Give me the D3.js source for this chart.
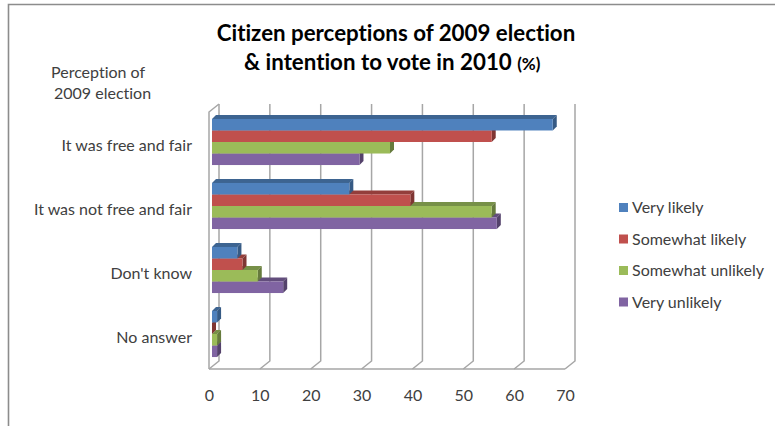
<!DOCTYPE html>
<html>
<head>
<meta charset="utf-8">
<script src="https://cdnjs.cloudflare.com/ajax/libs/d3/7.8.5/d3.min.js"></script>
<style>
  html, body { margin: 0; padding: 0; background: #fff; overflow: hidden; }
  text { font-family: Lato, "Noto Sans", sans-serif; font-variant-ligatures: none; }
</style>
</head>
<body>
<div id="chart"></div>
<script>
const categories = ["It was free and fair", "It was not free and fair", "Don't know", "No answer"];
const seriesNames = ["Very likely", "Somewhat likely", "Somewhat unlikely", "Very unlikely"];
const veryLikely = [67, 27, 5, 1];
const somewhatLikely = [55, 39, 6, 0];
const somewhatUnlikely = [35, 55, 9, 1];
const veryUnlikely = [29, 56, 14, 1];
const xTicks = [0, 10, 20, 30, 40, 50, 60, 70];

const seriesValues = [veryLikely, somewhatLikely, somewhatUnlikely, veryUnlikely];
const fills = ["#4f81bd", "#c0504d", "#9bbb59", "#8064a2"];
const tops = ["#3d6491", "#943e3b", "#779048", "#624d7c"];
const sides = ["#365a84", "#7f3533", "#667b3d", "#54426b"];

const w = 775;
const h = 426;
const wallX = 10;
const wallY = 8;
const barDepth = 4;
const barInset = 3;
const floorY = 369;
const wallTop = 112;

const x = d3.scaleLinear().domain([0, 70]).range([209, 565]);
const y = d3.scaleBand().domain(categories).range([110, 366]).paddingInner(0.28).paddingOuter(0.14);
const ySeries = d3.scaleBand().domain(seriesNames).range([0, y.bandwidth()]);

const svg = d3.select("#chart").append("svg").attr("width", w).attr("height", h);

svg.append("rect").attr("width", w).attr("height", h).attr("fill", "#fff");

// outer frame, only top and left show in the crop
svg.append("path")
  .attr("d", `M8.5,${h}V4.5H${w}`)
  .attr("fill", "none")
  .attr("stroke", "#8c8c8c")
  .attr("stroke-width", 1.6);

// 3d walls and gridlines
const grid = svg.append("g").attr("fill", "none").attr("stroke", "#a6a6a6").attr("stroke-width", 1.5);

grid.selectAll("path.tick3d")
  .data(xTicks)
  .enter()
  .append("path")
  .attr("class", "tick3d")
  .attr("d", function (d) {
    return `M${x(d)},${floorY}L${x(d) + wallX},${floorY - wallY}V${wallTop - wallY}`;
  });

grid.append("path").attr("d", `M${x(0)},${floorY}V${wallTop}L${x(0) + wallX},${wallTop - wallY}`);
grid.append("path").attr("d", `M${x(0)},${floorY}H${x(70)}`);

// bars, bottom series first so the upper faces hide the caps below
const bars = svg.append("g");

d3.range(seriesNames.length).reverse().forEach(function (s) {
  categories.forEach(function (cat, i) {
    const x0 = x(0) + barInset;
    const x1 = x(seriesValues[s][i]) + barInset;
    const y0 = y(cat) + ySeries(seriesNames[s]);
    const bh = ySeries.bandwidth();

    bars.append("path")
      .attr("fill", tops[s])
      .attr("d", `M${x0},${y0}L${x0 + barDepth},${y0 - barDepth}H${x1 + barDepth}L${x1},${y0}Z`);

    bars.append("path")
      .attr("fill", sides[s])
      .attr("d", `M${x1},${y0}L${x1 + barDepth},${y0 - barDepth}V${y0 + bh - barDepth}L${x1},${y0 + bh}Z`);

    bars.append("rect")
      .attr("x", x0)
      .attr("y", y0)
      .attr("width", x1 - x0)
      .attr("height", bh)
      .attr("fill", fills[s]);
  });
});

// value axis, labels only
const xAxis = svg.append("g")
  .attr("transform", `translate(0,${floorY + 21})`)
  .call(d3.axisBottom(x).tickValues(xTicks).tickSize(0).tickPadding(0));
xAxis.select(".domain").remove();
xAxis.selectAll("text")
  .attr("font-size", 16)
  .attr("fill", "#404040")
  .style("font-family", "Lato, 'Noto Sans', sans-serif");

// category axis, labels only
const yAxis = svg.append("g")
  .attr("transform", "translate(192,3.5)")
  .call(d3.axisLeft(y).tickSize(0).tickPadding(0));
yAxis.select(".domain").remove();
yAxis.selectAll("text")
  .attr("font-size", 16)
  .attr("fill", "#404040")
  .style("font-family", "Lato, 'Noto Sans', sans-serif");

// title
svg.append("text")
  .attr("x", 396)
  .attr("y", 41)
  .attr("text-anchor", "middle")
  .attr("font-size", 22.3)
  .attr("font-weight", 700)
  .attr("fill", "#000")
  .text("Citizen perceptions of 2009 election");

const title2 = svg.append("text")
  .attr("x", 244)
  .attr("y", 70)
  .attr("font-size", 22.3)
  .attr("font-weight", 700)
  .attr("fill", "#000");
title2.append("tspan").text("& intention to vote in 2010 ");
title2.append("tspan").attr("font-size", 17).text("(%)");

// axis caption
["Perception of", "2009 election"].forEach(function (line, i) {
  svg.append("text")
    .attr("x", i === 0 ? 51 : 54)
    .attr("y", 78 + i * 21)
    .attr("font-size", 16)
    .attr("fill", "#404040")
    .text(line);
});

// legend
const legendY = d3.scalePoint().domain(seriesNames).range([207.5, 302]);

const legend = svg.append("g")
  .selectAll("g")
  .data(seriesNames)
  .enter()
  .append("g")
  .attr("transform", function (d) {
    return `translate(619,${legendY(d)})`;
  });

legend.append("rect")
  .attr("y", -4.5)
  .attr("width", 9)
  .attr("height", 9)
  .attr("fill", function (d, i) {
    return fills[i];
  });

legend.append("text")
  .attr("x", 13)
  .attr("y", 5.5)
  .attr("font-size", 16)
  .attr("fill", "#404040")
  .text(function (d) {
    return d;
  });
</script>
</body>
</html>
